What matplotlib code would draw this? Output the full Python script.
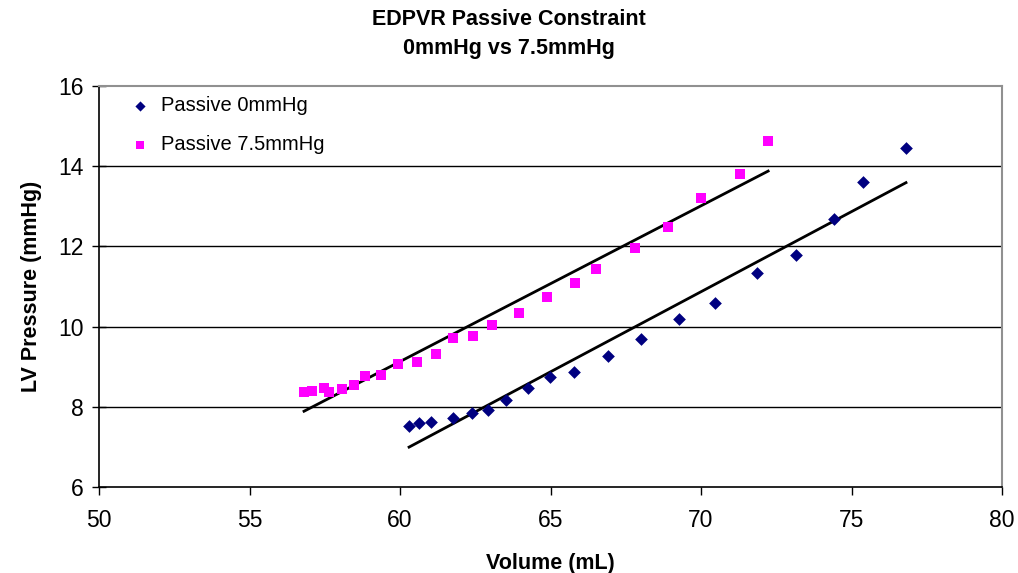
"""
EDPVR passive constraint: 0mmHg vs 7.5mmHg scatter with linear trendlines.
"""

import numpy as np
import matplotlib.pyplot as plt

# Passive 0mmHg
Vol_0 = [60.30, 60.63, 61.03, 61.76, 62.38, 62.91, 63.52, 64.25, 64.98, 65.78,
	66.90, 68.02, 69.27, 70.46, 71.87, 73.16, 74.41, 75.39, 76.81]
Pres_0 = [7.51, 7.60, 7.63, 7.71, 7.84, 7.92, 8.17, 8.47, 8.74, 8.88,
	9.27, 9.69, 10.20, 10.60, 11.33, 11.78, 12.69, 13.61, 14.45]

# Passive 7.5mmHg
Vol_75 = [56.81, 57.08, 57.49, 57.65, 58.06, 58.48, 58.85, 59.36, 59.93, 60.56,
	61.19, 61.76, 62.44, 63.07, 63.95, 64.88, 65.82, 66.50, 67.81, 68.89,
	70.00, 71.29, 72.23]
Pres_75 = [8.36, 8.40, 8.47, 8.36, 8.44, 8.54, 8.76, 8.79, 9.06, 9.13,
	9.32, 9.72, 9.76, 10.04, 10.35, 10.75, 11.08, 11.44, 11.96, 12.49,
	13.20, 13.80, 14.63]

X_Ticks = [50, 55, 60, 65, 70, 75, 80]
Y_Ticks = [6, 8, 10, 12, 14, 16]

Font = 'Liberation Sans'
plt.rcParams['font.family'] = [Font, 'DejaVu Sans']

fig = plt.figure(figsize=(10.18, 5.73), dpi=100)
ax = fig.add_axes([0.0973, 0.150, 0.887, 0.700])

# Gridlines
for y in Y_Ticks[1:-1]:
	ax.axhline(y, color='black', linewidth=1.0, zorder=1)

# Scatter points
ax.scatter(Vol_0, Pres_0, marker='D', s=42, color='#000080', linewidths=0, zorder=3, label='Passive 0mmHg')
ax.scatter(Vol_75, Pres_75, marker='s', s=60, color='#FF00FF', linewidths=0, zorder=3, label='Passive 7.5mmHg')

# Linear trendlines
for Vol, Pres in [(Vol_0, Pres_0), (Vol_75, Pres_75)]:
	k, b = np.polyfit(Vol, Pres, 1)
	xs = np.array([min(Vol), max(Vol)])
	ax.plot(xs, k * xs + b, color='black', linewidth=2.0, zorder=2)

# Axes configuration
ax.set_xlim(50, 80)
ax.set_ylim(6, 16)
ax.set_xticks(X_Ticks)
ax.set_yticks(Y_Ticks)
ax.tick_params(axis='both', labelsize=16.5, color='black', width=1.0)
ax.tick_params(axis='x', direction='out', length=6, pad=10)
ax.tick_params(axis='y', direction='inout', length=10, pad=6)
for s in ['left', 'bottom']:
	ax.spines[s].set_color('black')
	ax.spines[s].set_linewidth(1.2)
for s in ['top', 'right']:
	ax.spines[s].set_color('#909090')
	ax.spines[s].set_linewidth(1.5)

ax.set_xlabel('Volume (mL)', fontsize=15.5, fontweight='bold', labelpad=15)
ax.set_ylabel('LV Pressure (mmHg)', fontsize=15.5, fontweight='bold', labelpad=12)

fig.text(0.5, 0.985, 'EDPVR Passive Constraint\n0mmHg vs 7.5mmHg', ha='center', va='top',
	fontsize=15.5, fontweight='bold', linespacing=1.55)

leg = ax.legend(loc='upper left', frameon=False, fontsize=14.5, markerscale=0.8,
	handletextpad=0.05, labelspacing=1.0, borderaxespad=0.1, bbox_to_anchor=(0.012, 1.0))

plt.savefig('out.png', dpi=100)
plt.close()
